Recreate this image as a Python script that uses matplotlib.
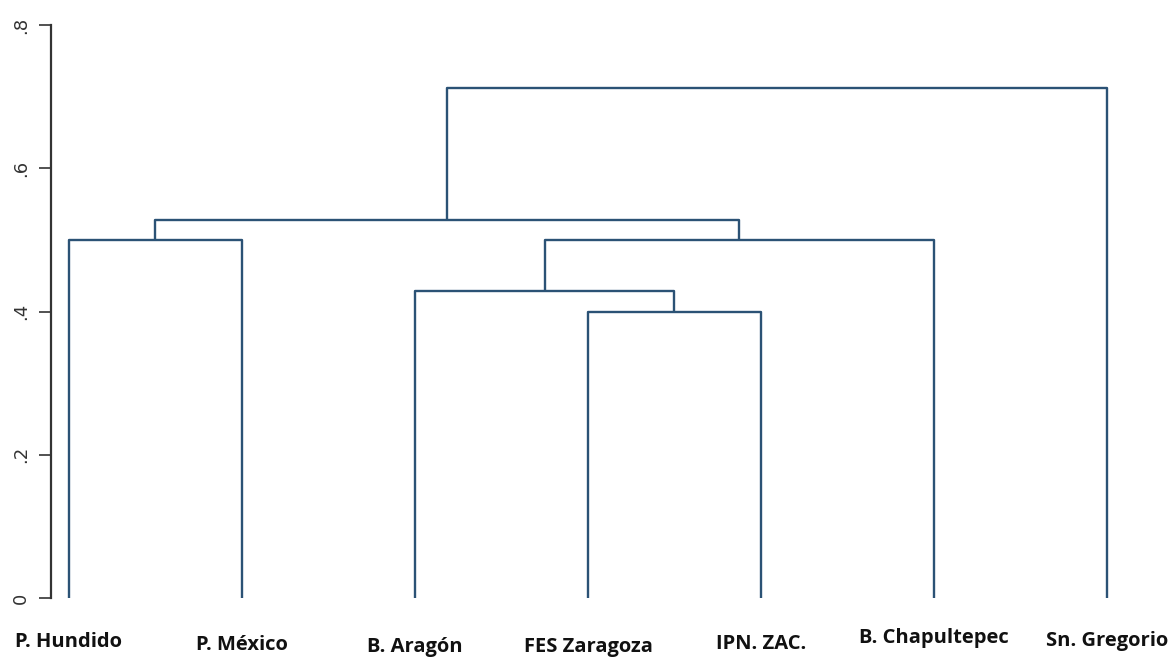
import matplotlib
matplotlib.use("Agg")
import matplotlib.pyplot as plt

# Leaves in display order
labels = ["P. Hundido", "P. México", "B. Aragón", "FES Zaragoza",
          "IPN. ZAC.", "B. Chapultepec", "Sn. Gregorio"]

# Linkage rows: (child a, child b, height); new cluster ids start at len(labels)
link_a = [0, 3, 2, 9, 7, 11]
link_b = [1, 4, 8, 5, 10, 6]
link_h = [0.50, 0.40, 0.428, 0.50, 0.528, 0.712]

yticks = [0, 0.2, 0.4, 0.6, 0.8]
ytick_labels = ["0", ".2", ".4", ".6", ".8"]

LINE = "#2b5275"
W, H = 1172, 662

fig = plt.figure(figsize=(W / 100, H / 100), dpi=100)
fig.patch.set_facecolor("white")
ax = fig.add_axes([51 / W, (H - 598) / H, (1150 - 51) / W, 573 / H])
ax.set_xlim(-0.104, (1150 - 69) / 173)
ax.set_ylim(0, 0.8)

# compute node positions and draw the U-shapes
xpos = {i: float(i) for i in range(len(labels))}
hpos = {i: 0.0 for i in range(len(labels))}
for k, (a, b, h) in enumerate(zip(link_a, link_b, link_h)):
    nid = len(labels) + k
    xa, xb = xpos[a], xpos[b]
    ax.plot([xa, xa, xb, xb], [hpos[a], h, h, hpos[b]],
            color=LINE, lw=1.7, solid_capstyle="butt", clip_on=False)
    xpos[nid] = (xa + xb) / 2
    hpos[nid] = h

# axis styling
for s in ["top", "right", "bottom"]:
    ax.spines[s].set_visible(False)
ax.spines["left"].set_color("#333333")
ax.spines["left"].set_linewidth(1.6)
ax.spines["left"].set_bounds(0, 0.8)
ax.set_xticks([])
ax.set_yticks(yticks)
ax.set_yticklabels(ytick_labels, rotation=90, va="center",
                   fontsize=13, color="#333333")
ax.tick_params(axis="y", length=9, width=1.2, color="#333333", pad=6)

# leaf labels, slightly staggered
offsets_px = [-44, -47, -49, -49, -46, -40, -43]
for i, (name, off) in enumerate(zip(labels, offsets_px)):
    ax.annotate(name, xy=(i, 0), xycoords="data",
                xytext=(0, off * 0.72), textcoords="offset points",
                ha="center", va="center", fontsize=14.5, fontweight="bold",
                family=["Open Sans", "DejaVu Sans"],
                color="#111111", annotation_clip=False)

fig.savefig("out.png", dpi=100, facecolor="white")
